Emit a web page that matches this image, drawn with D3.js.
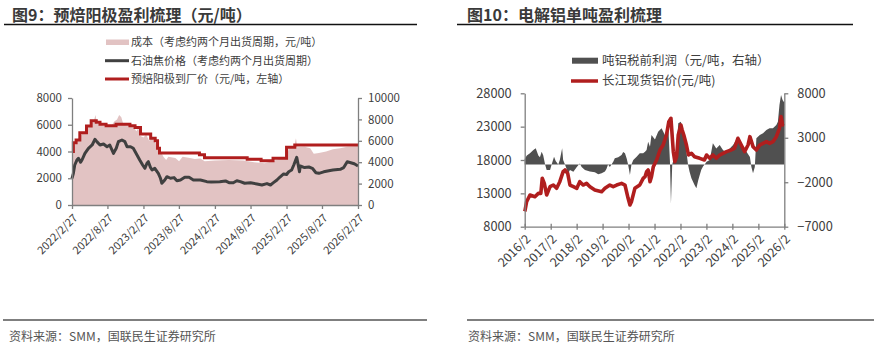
<!DOCTYPE html>
<html><head><meta charset="utf-8">
<script src="https://cdn.jsdelivr.net/npm/d3@7"></script>
<style>body{margin:0;background:#fff} svg{display:block}</style>
</head><body>
<svg id="c" width="894" height="353"></svg>
<script>
const FONT = '"Noto Sans CJK SC","Noto Sans",sans-serif';

// ---------- Chart 9 data ----------
const costDates = ["2022-02-27","2022-03-08","2022-03-20","2022-04-07","2022-05-12","2022-06-02","2022-06-16","2022-06-27","2022-07-05","2022-07-24","2022-08-21","2022-09-16","2022-10-01","2022-10-15","2022-10-26","2022-11-06","2022-11-17","2022-12-16","2023-01-06","2023-01-22","2023-02-01","2023-02-08","2023-02-27","2023-03-13","2023-03-28","2023-04-12","2023-04-30","2023-05-14","2023-05-29","2023-06-09","2023-06-23","2023-07-04","2023-08-09","2023-08-28","2023-09-15","2023-10-22","2023-11-16","2023-12-15","2024-01-06","2024-02-27","2024-05-09","2024-07-21","2024-09-14","2024-11-08","2024-12-15","2025-01-20","2025-02-27","2025-03-10","2025-04-05","2025-04-16","2025-04-23","2025-05-30","2025-06-28","2025-07-16","2025-08-11","2025-09-17","2025-10-22","2025-11-28","2026-01-03","2026-02-27"];
const costValues = [4900,5500,5800,6400,7000,7600,7700,8400,7600,7500,7300,7400,7800,8000,8400,8200,7500,7400,7300,6900,7200,6500,6300,6600,6000,6300,5800,5400,4900,4500,4200,4500,4400,4100,4500,4400,4300,4350,4100,4150,4200,4150,4000,3900,4100,4300,4300,5300,5300,6250,5400,5450,5300,4800,4850,5000,5200,5300,5450,5500];

const cokeDates = ["2022-02-27","2022-03-06","2022-03-13","2022-03-24","2022-04-01","2022-04-12","2022-04-19","2022-05-04","2022-05-22","2022-06-10","2022-06-24","2022-07-05","2022-07-20","2022-08-07","2022-08-25","2022-09-08","2022-09-27","2022-10-11","2022-10-22","2022-11-09","2022-11-24","2022-12-05","2022-12-23","2023-01-06","2023-01-25","2023-02-08","2023-02-23","2023-03-06","2023-03-17","2023-03-24","2023-04-04","2023-04-12","2023-04-26","2023-05-14","2023-05-25","2023-06-01","2023-06-16","2023-06-27","2023-07-15","2023-08-02","2023-08-17","2023-09-04","2023-09-26","2023-10-18","2023-11-09","2023-12-15","2024-01-17","2024-02-08","2024-03-23","2024-04-21","2024-05-09","2024-05-31","2024-06-18","2024-07-06","2024-07-28","2024-08-27","2024-09-29","2024-10-24","2024-11-19","2024-12-07","2024-12-22","2025-01-09","2025-01-23","2025-02-12","2025-02-27","2025-03-10","2025-03-25","2025-04-05","2025-04-20","2025-04-27","2025-05-04","2025-05-08","2025-05-30","2025-06-21","2025-07-09","2025-07-27","2025-08-11","2025-09-05","2025-10-01","2025-10-22","2025-11-28","2025-12-16","2026-01-03","2026-01-21","2026-02-08","2026-02-27"];
const cokeValues = [2490,2960,3740,4200,4365,4000,4205,4830,5300,5610,6140,5900,5610,5700,5450,5600,4830,5300,5920,6075,5920,5450,5450,5300,4670,4205,3740,3430,3900,4050,3500,3270,3430,2960,2500,2030,2340,2645,2500,2560,2270,2340,2590,2590,2340,2340,2180,2150,2180,2250,2085,2085,2270,2180,2030,2085,1960,1870,2000,1870,2085,2340,2590,2900,2850,3110,3270,3740,4460,3800,3110,3645,3500,3550,3430,3020,2960,3100,3205,3270,3335,3500,4050,3950,3850,3645];

const anodeDates = ["2022-02-27","2022-03-06","2022-03-20","2022-04-08","2022-05-12","2022-06-05","2022-07-01","2022-07-20","2022-08-20","2022-10-10","2022-12-20","2023-01-15","2023-02-12","2023-04-05","2023-04-28","2023-05-10","2023-05-20","2023-12-10","2024-01-05","2024-08-10","2024-10-20","2024-12-20","2025-02-27","2025-04-10","2026-02-27"];
const anodeValues = [4000,4660,4860,5400,5900,6300,6180,6030,5930,6030,5930,5800,5310,4990,4810,4240,3880,3760,3540,3420,3310,3500,4310,4490,4490];

const c9XTicks = ["2022-02-27","2022-08-27","2023-02-27","2023-08-27","2024-02-27","2024-08-27","2025-02-27","2025-08-27","2026-02-27"];
const c9LeftTicks = [0,2000,4000,6000,8000];
const c9RightTicks = [0,2000,4000,6000,8000,10000];

// ---------- Chart 10 data ----------
const profitDates = ["2016-02-01","2016-02-07","2016-03-02","2016-04-15","2016-06-02","2016-07-05","2016-08-11","2016-09-02","2016-09-27","2016-10-19","2016-11-14","2016-12-06","2017-01-23","2017-02-14","2017-03-20","2017-04-12","2017-05-18","2017-06-09","2017-07-12","2017-07-26","2017-08-21","2017-09-13","2017-10-05","2017-10-30","2017-12-17","2018-02-03","2018-03-17","2018-04-12","2018-05-29","2018-08-07","2018-10-15","2018-12-02","2019-01-19","2019-03-06","2019-03-27","2019-04-19","2019-05-14","2019-06-06","2019-07-01","2019-07-23","2019-09-09","2019-10-26","2019-11-18","2019-12-13","2020-01-05","2020-01-26","2020-02-21","2020-03-13","2020-04-08","2020-05-25","2020-07-08","2020-08-25","2020-09-20","2020-10-12","2020-11-03","2020-11-29","2020-12-20","2021-02-07","2021-03-24","2021-05-11","2021-06-27","2021-08-14","2021-09-06","2021-09-20","2021-10-08","2021-11-14","2021-12-09","2022-01-01","2022-02-07","2022-03-09","2022-04-05","2022-04-26","2022-05-18","2022-06-09","2022-07-05","2022-08-18","2022-09-13","2022-10-08","2022-10-30","2022-11-21","2022-12-17","2023-01-08","2023-02-03","2023-03-20","2023-05-03","2023-06-20","2023-08-07","2023-09-24","2023-11-11","2023-12-27","2024-02-11","2024-03-27","2024-05-14","2024-07-01","2024-08-18","2024-10-05","2024-10-26","2024-11-18","2024-12-13","2025-01-04","2025-02-21","2025-04-08","2025-05-25","2025-07-08","2025-08-25","2025-10-12","2025-11-03","2025-11-25","2025-12-17","2026-01-08","2026-01-23","2026-02-01"];
const profitValues = [600,690,1000,1250,1620,1810,1000,800,1430,1000,0,-630,-630,0,870,400,0,500,1810,500,0,-500,-1000,-630,-820,-300,120,-300,-630,-800,-890,-1110,-1000,-800,-500,0,-300,0,300,690,800,1060,1400,1250,700,0,-1190,0,500,870,1250,1250,1430,1620,2560,2000,3310,2800,3680,4060,3310,4240,300,-4380,0,1060,2000,4620,4800,3500,2940,1430,0,-820,-1560,-2320,-2690,-1800,-1200,-600,-200,0,300,500,2370,1800,2180,1600,1430,1800,2180,2750,2370,1800,1430,850,-300,-1000,-300,2940,3310,3500,3870,4060,4060,4430,4800,6680,7800,7240,7050,7050];

const alDates = ["2016-02-01","2016-02-07","2016-02-28","2016-04-15","2016-06-24","2016-08-11","2016-09-15","2016-10-05","2016-11-03","2016-12-06","2017-01-23","2017-03-10","2017-04-25","2017-06-09","2017-07-26","2017-08-21","2017-09-28","2017-10-30","2017-12-17","2018-02-03","2018-03-17","2018-05-03","2018-06-20","2018-08-07","2018-10-15","2019-01-19","2019-03-06","2019-05-14","2019-07-01","2019-08-18","2019-10-26","2019-12-13","2020-01-26","2020-02-21","2020-03-13","2020-04-30","2020-07-08","2020-08-25","2020-09-20","2020-10-12","2020-11-03","2020-11-29","2020-12-20","2021-01-15","2021-03-02","2021-04-19","2021-06-02","2021-07-19","2021-08-21","2021-09-20","2021-10-23","2021-11-14","2021-12-09","2022-01-01","2022-02-07","2022-02-25","2022-03-20","2022-04-26","2022-05-25","2022-07-05","2022-08-18","2022-10-30","2023-01-04","2023-02-03","2023-03-20","2023-05-03","2023-06-20","2023-08-07","2023-09-24","2023-11-11","2024-01-15","2024-03-02","2024-04-19","2024-06-06","2024-07-23","2024-09-09","2024-10-05","2024-11-18","2025-01-04","2025-02-21","2025-04-08","2025-05-25","2025-07-08","2025-08-25","2025-10-12","2025-11-25","2025-12-17","2026-01-08","2026-01-23"];
const alValues = [10300,10500,11750,12750,12500,13000,13000,15260,14500,12750,14000,14250,13760,14750,16250,16500,16000,14250,14000,13750,14750,14250,14500,14000,13500,13250,13750,14250,14000,14250,14500,14250,12250,11250,11750,13750,14250,15250,15500,16250,16500,14750,15500,17000,18000,19500,20250,21750,23750,24250,19250,17750,18500,21750,23250,22500,21750,20250,18750,19000,18500,18250,18000,18750,18250,18750,18250,18750,19000,19250,19500,19750,21250,20250,19250,20250,21500,20000,19500,20250,20500,20750,20500,20750,21500,22750,24500,23250,23500];

const c10XTicks = ["2016-02-01","2017-02-01","2018-02-01","2019-02-01","2020-02-01","2021-02-01","2022-02-01","2023-02-01","2024-02-01","2025-02-01","2026-02-01"];
const c10LeftTicks = [8000,13000,18000,23000,28000];
const c10RightTicks = [-7000,-2000,3000,8000];

// ---------- helpers ----------
const parse = d3.timeParse("%Y-%m-%d");
const zip = (ds, vs) => ds.map((d, i) => ({date: parse(d), v: vs[i]}));
const svg = d3.select("#c");
const AX = "#7f7f7f", TXT = "#404040";

function styleAxis(g, size) {
  g.select(".domain").attr("stroke", AX).attr("stroke-width", 1.3);
  g.selectAll(".tick line").attr("stroke", AX).attr("stroke-width", 1.3);
  g.selectAll("text").attr("fill", TXT).style("font-family", FONT).style("font-size", size + "px");
}

// titles & rules
svg.append("text").attr("x", 12).attr("y", 21).text("图9：预焙阳极盈利梳理（元/吨）")
  .style("font-family", FONT).style("font-size", "16px").style("font-weight", "bold").attr("fill", "#3a3a3a");
svg.append("line").attr("x1", 4).attr("x2", 417).attr("y1", 24.5).attr("y2", 24.5).attr("stroke", "#111").attr("stroke-width", 1.3);
svg.append("text").attr("x", 467).attr("y", 21).text("图10：电解铝单吨盈利梳理")
  .style("font-family", FONT).style("font-size", "16px").style("font-weight", "bold").attr("fill", "#3a3a3a");
svg.append("line").attr("x1", 457).attr("x2", 853).attr("y1", 24.5).attr("y2", 24.5).attr("stroke", "#111").attr("stroke-width", 1.3);

svg.append("line").attr("x1", 3).attr("x2", 427).attr("y1", 320).attr("y2", 320).attr("stroke", "#555").attr("stroke-width", 1.6);
svg.append("line").attr("x1", 467).attr("x2", 874).attr("y1", 320).attr("y2", 320).attr("stroke", "#555").attr("stroke-width", 1.6);
svg.append("text").attr("x", 9).attr("y", 341).text("资料来源：SMM，国联民生证券研究所")
  .style("font-family", FONT).style("font-size", "12px").attr("fill", "#555");
svg.append("text").attr("x", 468).attr("y", 341).text("资料来源：SMM，国联民生证券研究所")
  .style("font-family", FONT).style("font-size", "12px").attr("fill", "#555");

// ---------- Chart 9 ----------
{
  const x = d3.scaleTime().domain([parse("2022-02-27"), parse("2026-02-27")]).range([72, 358]);
  const yL = d3.scaleLinear().domain([0, 8000]).range([205, 98]);
  const yR = d3.scaleLinear().domain([0, 10000]).range([205, 98]);
  const g = svg.append("g");

  const cost = zip(costDates, costValues);
  g.append("path").datum(cost).attr("fill", "#e2c3c3")
    .attr("d", d3.area().x(d => x(d.date)).y0(yR(0)).y1(d => yR(d.v)));

  const anode = zip(anodeDates, anodeValues);
  g.append("path").datum(anode).attr("fill", "none").attr("stroke", "#b01e1e").attr("stroke-width", 3)
    .attr("d", d3.line().x(d => x(d.date)).y(d => yL(d.v)).curve(d3.curveStepAfter));

  const coke = zip(cokeDates, cokeValues);
  g.append("path").datum(coke).attr("fill", "none").attr("stroke", "#404040").attr("stroke-width", 3)
    .attr("stroke-linejoin", "round")
    .attr("d", d3.line().x(d => x(d.date)).y(d => yR(d.v)));

  const fmt = d => `${d.getFullYear()}/${d.getMonth() + 1}/${d.getDate()}`;
  const gx = g.append("g").attr("transform", "translate(0,205)")
    .call(d3.axisBottom(x).tickValues(c9XTicks.map(parse)).tickFormat(fmt).tickSize(4).tickSizeOuter(0));
  styleAxis(gx, 11);
  gx.selectAll("text").attr("x", 0).attr("y", 0).attr("dy", "0.35em").attr("text-anchor", "end")
    .attr("transform", "translate(3,11) rotate(-45)");

  const gl = g.append("g").attr("transform", "translate(72,0)")
    .call(d3.axisLeft(yL).tickValues(c9LeftTicks).tickFormat(d3.format("d")).tickSize(4).tickSizeOuter(0).tickPadding(6));
  styleAxis(gl, 11.5);
  const gr = g.append("g").attr("transform", "translate(358,0)")
    .call(d3.axisRight(yR).tickValues(c9RightTicks).tickFormat(d3.format("d")).tickSize(4).tickSizeOuter(0).tickPadding(6));
  styleAxis(gr, 11.5);

  // legend
  const lg = svg.append("g").style("font-family", FONT).style("font-size", "11px");
  lg.append("rect").attr("x", 106).attr("y", 39.5).attr("width", 23).attr("height", 5.5).attr("fill", "#e2c3c3");
  lg.append("line").attr("x1", 105).attr("x2", 129).attr("y1", 60.7).attr("y2", 60.7).attr("stroke", "#404040").attr("stroke-width", 3);
  lg.append("line").attr("x1", 105).attr("x2", 129).attr("y1", 79).attr("y2", 79).attr("stroke", "#b01e1e").attr("stroke-width", 3);
  const l9 = ["成本（考虑约两个月出货周期，元/吨）", "石油焦价格（考虑约两个月出货周期）", "预焙阳极到厂价（元/吨，左轴）"];
  [42.3, 60.7, 79].forEach((yy, i) => lg.append("text").attr("x", 131).attr("y", yy).attr("dy", "0.35em").attr("fill", TXT).text(l9[i]));
}

// ---------- Chart 10 ----------
{
  const x = d3.scaleTime().domain([parse("2016-02-01"), parse("2026-02-01")]).range([524.7, 784.3]);
  const yL = d3.scaleLinear().domain([8000, 28000]).range([226.7, 93.3]);
  const yR = d3.scaleLinear().domain([-7000, 8000]).range([226.7, 93.3]);
  const g = svg.append("g");

  const profit = zip(profitDates, profitValues);
  g.append("path").datum(profit).attr("fill", "#505050")
    .attr("d", d3.area().x(d => x(d.date)).y0(yR(0)).y1(d => yR(d.v)));

  const al = zip(alDates, alValues);
  g.append("path").datum(al).attr("fill", "none").attr("stroke", "#b01e1e").attr("stroke-width", 3.6)
    .attr("stroke-linejoin", "round")
    .attr("d", d3.line().x(d => x(d.date)).y(d => yL(d.v)));

  const fmt = d => `${d.getFullYear()}/${d.getMonth() + 1}`;
  const gx = g.append("g").attr("transform", "translate(0,226.7)")
    .call(d3.axisBottom(x).tickValues(c10XTicks.map(parse)).tickFormat(fmt).tickSize(4).tickSizeOuter(0));
  styleAxis(gx, 12.5);
  gx.selectAll(".tick line").attr("y1", -3).attr("y2", 3);
  gx.selectAll("text").attr("x", 0).attr("y", 0).attr("dy", "0.35em").attr("text-anchor", "end")
    .attr("transform", "translate(3,10) rotate(-45)");

  const gl = g.append("g").attr("transform", "translate(524.7,0)")
    .call(d3.axisLeft(yL).tickValues(c10LeftTicks).tickFormat(d3.format("d")).tickSize(4).tickSizeOuter(0).tickPadding(9));
  styleAxis(gl, 12.8);
  const gr = g.append("g").attr("transform", "translate(784.3,0)")
    .call(d3.axisRight(yR).tickValues(c10RightTicks).tickFormat(d3.format("d")).tickSize(4).tickSizeOuter(0).tickPadding(9));
  styleAxis(gr, 12.8);

  const lg = svg.append("g").style("font-family", FONT).style("font-size", "12.5px");
  lg.append("rect").attr("x", 572).attr("y", 57.7).attr("width", 26).attr("height", 6).attr("fill", "#505050");
  lg.append("line").attr("x1", 571).attr("x2", 598).attr("y1", 81).attr("y2", 81).attr("stroke", "#b01e1e").attr("stroke-width", 3.5);
  const l10 = ["吨铝税前利润（元/吨，右轴）", "长江现货铝价(元/吨)"];
  [60.7, 81].forEach((yy, i) => lg.append("text").attr("x", 602).attr("y", yy).attr("dy", "0.35em").attr("fill", TXT).text(l10[i]));
}
</script>
</body></html>
